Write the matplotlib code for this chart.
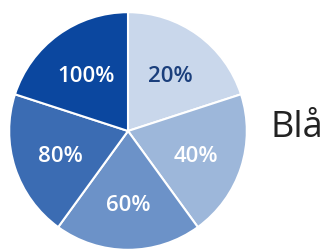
import matplotlib
matplotlib.use("Agg")
import matplotlib.pyplot as plt

labels = ["20%", "40%", "60%", "80%", "100%"]
sizes = [1, 1, 1, 1, 1]
colors = ["#c9d7eb", "#9db7da", "#6c92c8", "#3b6cb3", "#0b479f"]
text_colors = ["#1b3f7c", "white", "white", "white", "white"]
legend_label = "Blå"

fig = plt.figure(figsize=(3.33, 2.52), dpi=100)
ax = fig.add_axes([8 / 333, 1 / 252, 240 / 333, 240 / 252])

wedges, texts = ax.pie(sizes, colors=colors, startangle=90, counterclock=False,
                       wedgeprops=dict(edgecolor="white", linewidth=1.5),
                       labels=labels, labeldistance=0.6)
for t, c in zip(texts, text_colors):
    x, y = t.get_position()
    t.set_position((x, y - 0.03))
    t.set_color(c)
    t.set_fontsize(16)
    t.set_fontweight("semibold")
    t.set_family("Open Sans")
    t.set_ha("center")
    t.set_va("center")
ax.set_xlim(-1.01, 1.01)
ax.set_ylim(-1.01, 1.01)
ax.set_aspect("equal")
ax.axis("off")

fig.text(271 / 333, 115 / 252, legend_label, fontsize=26, family="Open Sans",
         color="#222222", ha="left", va="baseline")

fig.savefig("out.png", dpi=100)
